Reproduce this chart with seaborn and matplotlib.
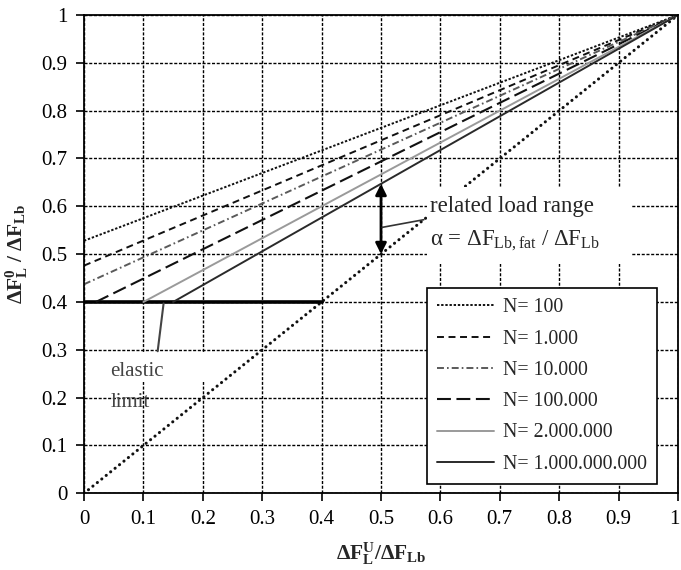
"""Related load range vs. lower load ratio for several cycle numbers."""

import matplotlib

matplotlib.use("Agg")

import matplotlib.pyplot as plt
import matplotlib.transforms as mtransforms
import pandas as pd
import seaborn as sns
from matplotlib.patches import Rectangle

# --- data ---
N_LABELS = [
    "N= 100",
    "N= 1.000",
    "N= 10.000",
    "N= 100.000",
    "N= 2.000.000",
    "N= 1.000.000.000",
]
START_X = [0.0, 0.0, 0.0, 0.02, 0.10, 0.15]
START_Y = [0.528, 0.476, 0.437, 0.40, 0.40, 0.40]
END_X = [1.0, 1.0, 1.0, 1.0, 1.0, 1.0]
END_Y = [1.0, 1.0, 1.0, 1.0, 1.0, 1.0]

ELASTIC_X = [0.0, 0.4]
ELASTIC_Y = [0.4, 0.4]
DIAG_X = [0.0, 1.0]
DIAG_Y = [0.0, 1.0]

TICKS = [0, 0.1, 0.2, 0.3, 0.4, 0.5, 0.6, 0.7, 0.8, 0.9, 1]
TICK_LABELS = ["0", "0.1", "0.2", "0.3", "0.4", "0.5", "0.6", "0.7", "0.8", "0.9", "1"]

# style per curve: (colour, linewidth, dash pattern)
_STYLES = [
    ("#111111", 1.4, (0, (1.7, 1.3))),
    ("#111111", 1.4, (0, (5.0, 3.3))),
    ("#5a5a5a", 1.4, (0, (5.0, 2.2, 1.2, 2.2))),
    ("#111111", 1.5, (0, (10.0, 4.0))),
    ("#9a9a9a", 1.4, "-"),
    ("#2a2a2a", 1.4, "-"),
]


def _curves() -> pd.DataFrame:
    rows = []
    for lab, x0, y0, x1, y1 in zip(N_LABELS, START_X, START_Y, END_X, END_Y):
        rows.append({"N": lab, "x": x0, "y": y0})
        rows.append({"N": lab, "x": x1, "y": y1})
    return pd.DataFrame(rows)


def main() -> None:
    sns.set_theme(style="ticks")
    plt.rcParams.update(
        {
            "font.family": ["Liberation Serif", "DejaVu Serif"],
            "mathtext.fontset": "custom",
            "mathtext.rm": "Liberation Serif",
            "mathtext.it": "Liberation Serif:italic",
            "mathtext.bf": "Liberation Serif:bold",
            "lines.scale_dashes": False,
            "axes.linewidth": 1.3,
        }
    )

    fig = plt.figure(figsize=(6.81, 5.70), dpi=100)
    ax = fig.add_axes([84 / 681, 1 - 493.3 / 570, 594 / 681, 478.3 / 570])

    ax.grid(True, color="black", linestyle=(0, (2.2, 1.2)), linewidth=1.0)
    ax.set_axisbelow(True)

    # white box behind "elastic" (hides the grid only)
    ax.add_patch(Rectangle((0.03, 0.232), 0.185, 0.064, facecolor="white",
                           edgecolor="none", zorder=1.5))

    # diagonal (dotted) and elastic limit
    sns.lineplot(
        x=DIAG_X, y=DIAG_Y, ax=ax, color="#111111", linewidth=2.2,
        linestyle=(0, (0.1, 4.0)), dash_capstyle="round", zorder=2,
    )
    sns.lineplot(
        x=ELASTIC_X, y=ELASTIC_Y, ax=ax, color="black", linewidth=2.6, zorder=4,
    )

    df = _curves()
    for lab, (col, lw, ls) in zip(N_LABELS, _STYLES):
        sub = df[df["N"] == lab]
        sns.lineplot(
            data=sub, x="x", y="y", ax=ax, color=col, linewidth=lw,
            linestyle=ls, label=lab, zorder=4,
        )

    # white box behind the load-range text (hides grid and diagonal)
    ax.add_patch(Rectangle((0.577, 0.48), 0.345, 0.16, facecolor="white",
                           edgecolor="none", zorder=3))

    # related load range annotation
    ax.annotate(
        "", xy=(0.5, 0.647), xytext=(0.5, 0.5),
        arrowprops=dict(arrowstyle="<|-|>", color="black", lw=2.0,
                        mutation_scale=16, shrinkA=0, shrinkB=0),
        zorder=5,
    )
    ax.plot([0.502, 0.572], [0.556, 0.572], color="#333333", lw=1.2, zorder=5)
    ax.text(0.583, 0.60, "related load range", fontsize=16.5, va="center",
            ha="left", zorder=6)
    ax.text(0.583, 0.527, r"α = ΔF$_{\mathrm{Lb,fat}}$ / ΔF$_{\mathrm{Lb}}$",
            fontsize=16.5, va="center", ha="left", zorder=6)

    # elastic limit annotation
    ax.plot([0.124, 0.134], [0.297, 0.397], color="#444444", lw=1.5, zorder=5)
    ax.text(0.044, 0.254, "elastic", fontsize=15, color="#444444",
            va="center", ha="left", zorder=6)
    ax.text(0.044, 0.19, "limit", fontsize=15, color="#444444",
            va="center", ha="left", zorder=6)

    ax.set_xlim(0, 1)
    ax.set_ylim(0, 1)
    ax.set_xticks(TICKS)
    ax.set_xticklabels(TICK_LABELS)
    ax.set_yticks(TICKS)
    ax.set_yticklabels(TICK_LABELS)
    ax.tick_params(axis="both", labelsize=15, length=6, width=1.2,
                   direction="out", color="black", labelcolor="black", pad=6)
    # the last x label sits on the figure edge; nudge it inside
    last = ax.get_xticklabels()[-1]
    last.set_transform(last.get_transform()
                       + mtransforms.ScaledTranslation(-4 / 100, 0,
                                                       fig.dpi_scale_trans))
    for sp in ax.spines.values():
        sp.set_visible(True)
        sp.set_color("black")
        sp.set_linewidth(1.3)
        sp.set_zorder(7)

    ax.set_xlabel(r"$\mathbf{\Delta F_L^{U}/\Delta F_{Lb}}$", fontsize=15.5,
                  labelpad=8)
    ax.set_ylabel(r"$\mathbf{\Delta F_L^{0}\ /\ \Delta F_{Lb}}$", fontsize=15.5,
                  labelpad=8)

    leg = ax.legend(
        loc="lower right",
        bbox_to_anchor=(0.965, 0.02),
        borderaxespad=0,
        fontsize=14.3,
        frameon=True,
        fancybox=False,
        framealpha=1,
        edgecolor="black",
        handlelength=2.9,
        handletextpad=0.45,
        labelspacing=0.62,
        borderpad=0.5,
    )
    leg.get_frame().set_linewidth(1.2)
    leg.set_zorder(8)

    fig.savefig("out.png", dpi=100)
    plt.close(fig)


if __name__ == "__main__":
    main()
